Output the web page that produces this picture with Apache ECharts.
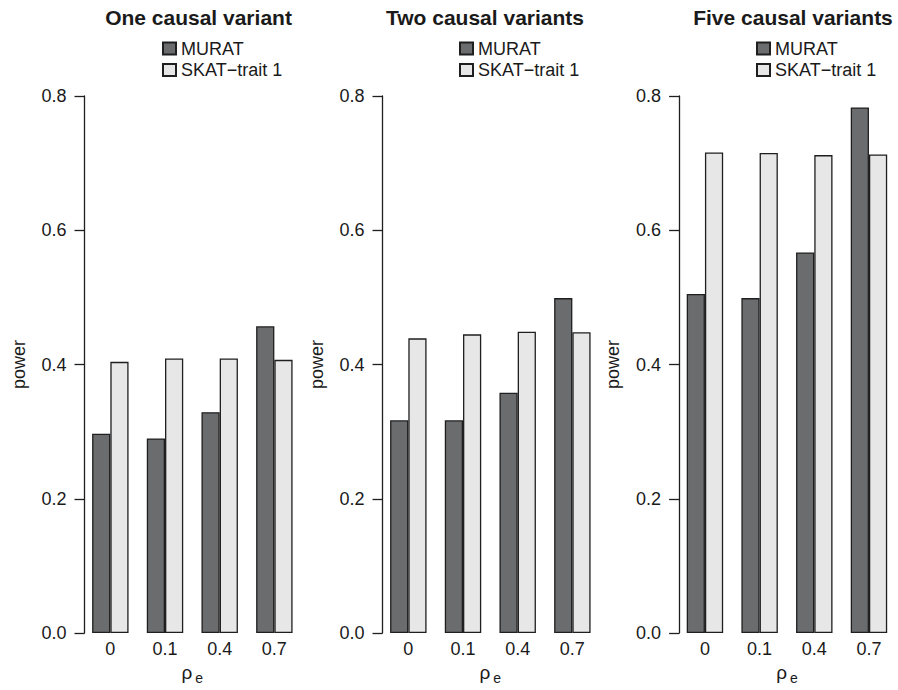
<!DOCTYPE html>
<html>
<head>
<meta charset="utf-8">
<script src="https://cdn.jsdelivr.net/npm/echarts@6/dist/echarts.min.js"></script>
<style>
html,body{margin:0;padding:0;background:#fff;}
#chart{width:898px;height:690px;}
</style>
</head>
<body>
<div id="chart"></div>
<script>
// ---- data ----
var categories = ['0', '0.1', '0.4', '0.7'];
var panelTitles = ['One causal variant', 'Two causal variants', 'Five causal variants'];
var seriesNames = ['MURAT', 'SKAT\u2212trait 1'];
var muratOne  = [0.297, 0.290, 0.329, 0.457];
var skatOne   = [0.404, 0.409, 0.409, 0.407];
var muratTwo  = [0.317, 0.317, 0.358, 0.499];
var skatTwo   = [0.439, 0.445, 0.449, 0.448];
var muratFive = [0.505, 0.499, 0.567, 0.783];
var skatFive  = [0.716, 0.715, 0.712, 0.713];
var yTicks = ['0.0', '0.2', '0.4', '0.6', '0.8'];

// ---- layout ----
var FONT = 'Liberation Sans, Arial, Helvetica, sans-serif';
var TXT = '#1a1a1a';
var gridLefts = [83, 381, 677.6];
var titleCenters = [198.5, 485, 793];
var legendLefts = [162, 459, 756];
var panelData = [[muratOne, skatOne], [muratTwo, skatTwo], [muratFive, skatFive]];
var colors = ['#6b6c6e', '#e6e7e6'];

var grids = [], xAxes = [], yAxes = [], series = [], legends = [], graphics = [];
for (var p = 0; p < 3; p++) {
  grids.push({left: gridLefts[p], top: 96, width: 218.7, height: 543, containLabel: false});
  xAxes.push({
    type: 'category', gridIndex: p, data: categories,
    axisLine: {show: false}, axisTick: {show: false}, splitLine: {show: false},
    axisLabel: {fontSize: 18, fontFamily: FONT, color: TXT, margin: 7},
    name: '{r|\u03C1}{e|e}', nameLocation: 'middle', nameGap: 29,
    nameTextStyle: {
      color: TXT, fontFamily: FONT,
      rich: {
        r: {fontSize: 19, fontFamily: FONT, color: TXT, lineHeight: 22, verticalAlign: 'top'},
        e: {fontSize: 14, fontFamily: FONT, color: TXT, lineHeight: 22, verticalAlign: 'bottom', padding: [0, 0, 0, 3]}
      }
    }
  });
  yAxes.push({
    type: 'value', gridIndex: p, min: 0, max: 0.8, interval: 0.2, offset: -1.5,
    axisLine: {show: true, lineStyle: {color: '#1f1f1f', width: 1.3}},
    axisTick: {show: true, length: 10, lineStyle: {color: '#1f1f1f', width: 1.3}},
    splitLine: {show: false},
    axisLabel: {fontSize: 18, fontFamily: FONT, color: TXT, margin: 18,
      formatter: function (v) { return yTicks[Math.round(v / 0.2)]; }},
    name: 'power', nameLocation: 'middle', nameGap: 57,
    nameTextStyle: {fontSize: 18, fontFamily: FONT, color: TXT}
  });
  for (var s = 0; s < 2; s++) {
    series.push({
      type: 'bar', name: seriesNames[s], xAxisIndex: p, yAxisIndex: p,
      data: panelData[p][s], barGap: '0%', barCategoryGap: '33.333%',
      itemStyle: {color: colors[s], borderColor: '#1f1f1f', borderWidth: 1.3},
      emphasis: {disabled: true}, silent: true, animation: false
    });
  }
  legends.push({
    orient: 'vertical', left: legendLefts[p], top: 39.5, padding: 0,
    itemWidth: 13, itemHeight: 12, itemGap: 3.5, icon: 'rect',
    selectedMode: false, data: seriesNames.slice(),
    textStyle: {fontSize: 18, fontFamily: FONT, color: TXT, lineHeight: 18}
  });
  graphics.push({
    type: 'text', x: titleCenters[p], y: 17,
    style: {text: panelTitles[p], font: 'bold 21px ' + FONT, fill: TXT,
      textAlign: 'center', textVerticalAlign: 'middle'}
  });
}

var chart = echarts.init(document.getElementById('chart'), null, {renderer: 'svg'});
chart.setOption({
  animation: false,
  backgroundColor: '#ffffff',
  grid: grids, xAxis: xAxes, yAxis: yAxes, series: series,
  legend: legends, graphic: graphics
});
</script>
</body>
</html>
